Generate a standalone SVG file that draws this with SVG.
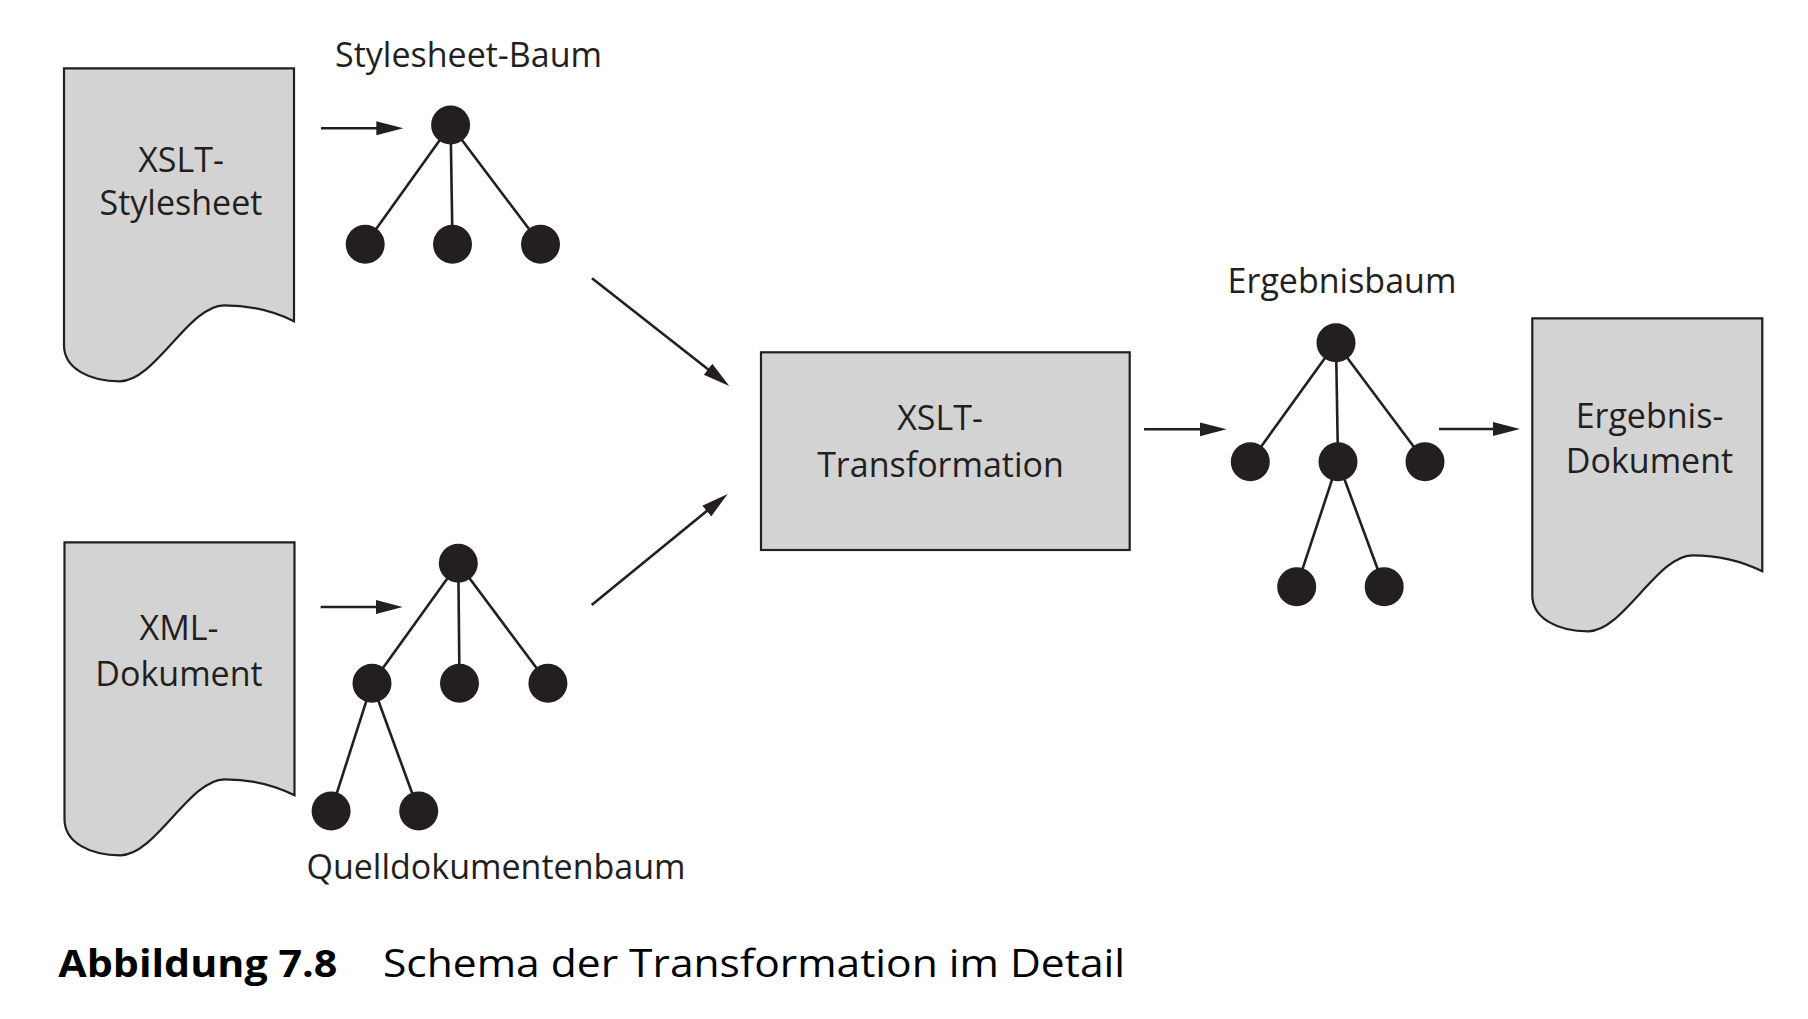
<svg xmlns="http://www.w3.org/2000/svg" width="1808" height="1019" viewBox="0 0 1808 1019">
<style>
  .doc { fill: #d3d3d3; stroke: #231f20; stroke-width: 2.2; stroke-linejoin: miter; }
  .box { fill: #d3d3d3; stroke: #231f20; stroke-width: 2.2; }
  .lbl { font-family: "Open Sans", "Liberation Sans", sans-serif; font-size: 34px; fill: #231f20; text-anchor: middle; }
  .cap { font-family: "Open Sans", "Liberation Sans", sans-serif; font-size: 38px; fill: #000; }
  .edge { stroke: #231f20; stroke-width: 2.6; fill: none; }
  .node { fill: #231f20; }
  .arr { stroke: #231f20; stroke-width: 2.6; fill: none; marker-end: url(#ah); }
</style>
<defs>
  <path id="docshape" d="M0,0 H230 V253 C210,243 185,237 160,237 C125,237 91,313 56,313 C25,313 0,300 0,277 Z"/>
  <marker id="ah" markerUnits="userSpaceOnUse" markerWidth="30" markerHeight="16" refX="17" refY="7" orient="auto">
    <path d="M0,0 L27,7 L0,14 Z" fill="#231f20"/>
  </marker>
</defs>
<rect width="1808" height="1019" fill="#ffffff"/>

<g id="xslt-stylesheet">
  <use href="#docshape" class="doc" transform="translate(64,68.3)"/>
  <text class="lbl" x="181" y="171.7">XSLT-</text>
  <text class="lbl" x="181" y="215">Stylesheet</text>
</g>

<g id="xml-dokument">
  <use href="#docshape" class="doc" transform="translate(64.5,542.3)"/>
  <text class="lbl" x="179" y="640">XML-</text>
  <text class="lbl" x="179" y="685.7">Dokument</text>
</g>

<g id="xslt-transformation">
  <rect class="box" x="761" y="352.3" width="368.7" height="197.7"/>
  <text class="lbl" x="940" y="430">XSLT-</text>
  <text class="lbl" x="940.5" y="476.7">Transformation</text>
</g>

<g id="ergebnis-dokument">
  <use href="#docshape" class="doc" transform="translate(1532.3,318.3)"/>
  <text class="lbl" x="1649.5" y="427.7">Ergebnis-</text>
  <text class="lbl" x="1649.5" y="472.7">Dokument</text>
</g>

<g id="stylesheet-baum">
  <text class="lbl" x="468.5" y="66.7">Stylesheet-Baum</text>
  <line class="edge" x1="450.6" y1="125" x2="365.2" y2="244.3"/>
  <line class="edge" x1="450.6" y1="125" x2="452.5" y2="244.3"/>
  <line class="edge" x1="450.6" y1="125" x2="540.5" y2="244.3"/>
  <circle class="node" cx="450.6" cy="125" r="19.5"/>
  <circle class="node" cx="365.2" cy="244.3" r="19.5"/>
  <circle class="node" cx="452.5" cy="244.3" r="19.5"/>
  <circle class="node" cx="540.5" cy="244.3" r="19.5"/>
</g>

<g id="quelldokumentenbaum">
  <line class="edge" x1="458.3" y1="563.3" x2="372" y2="683.3"/>
  <line class="edge" x1="458.3" y1="563.3" x2="459.5" y2="683.3"/>
  <line class="edge" x1="458.3" y1="563.3" x2="547.9" y2="683.3"/>
  <line class="edge" x1="372" y1="683.3" x2="331.1" y2="811"/>
  <line class="edge" x1="372" y1="683.3" x2="418.7" y2="811"/>
  <circle class="node" cx="458.3" cy="563.3" r="19.5"/>
  <circle class="node" cx="372" cy="683.3" r="19.5"/>
  <circle class="node" cx="459.5" cy="683.3" r="19.5"/>
  <circle class="node" cx="547.9" cy="683.3" r="19.5"/>
  <circle class="node" cx="331.1" cy="811" r="19.5"/>
  <circle class="node" cx="418.7" cy="811" r="19.5"/>
  <text class="lbl" x="496" y="879">Quelldokumentenbaum</text>
</g>

<g id="ergebnisbaum">
  <text class="lbl" x="1342" y="293.3">Ergebnisbaum</text>
  <line class="edge" x1="1336" y1="342.7" x2="1250.3" y2="461.7"/>
  <line class="edge" x1="1336" y1="342.7" x2="1338" y2="461.7"/>
  <line class="edge" x1="1336" y1="342.7" x2="1425" y2="461.7"/>
  <line class="edge" x1="1338" y1="461.7" x2="1296.7" y2="586.7"/>
  <line class="edge" x1="1338" y1="461.7" x2="1384.2" y2="586.7"/>
  <circle class="node" cx="1336" cy="342.7" r="19.5"/>
  <circle class="node" cx="1250.3" cy="461.7" r="19.5"/>
  <circle class="node" cx="1338" cy="461.7" r="19.5"/>
  <circle class="node" cx="1425" cy="461.7" r="19.5"/>
  <circle class="node" cx="1296.7" cy="586.7" r="19.5"/>
  <circle class="node" cx="1384.2" cy="586.7" r="19.5"/>
</g>

<g id="connectors">
  <line class="arr" x1="321" y1="128.3" x2="393.3" y2="128.3"/>
  <line class="arr" x1="320.6" y1="607" x2="392.7" y2="607"/>
  <line class="arr" x1="592" y1="278.3" x2="721.4" y2="379.8"/>
  <line class="arr" x1="591.7" y1="605" x2="719.9" y2="500.3"/>
  <line class="arr" x1="1144" y1="429.3" x2="1216.6" y2="429.3"/>
  <line class="arr" x1="1439" y1="429" x2="1510" y2="429"/>
</g>

<g id="caption">
  <text class="cap" x="58.3" y="977" font-weight="bold" textLength="279" lengthAdjust="spacingAndGlyphs">Abbildung 7.8</text>
  <text class="cap" x="383" y="977" textLength="742" lengthAdjust="spacingAndGlyphs">Schema der Transformation im Detail</text>
</g>
</svg>
